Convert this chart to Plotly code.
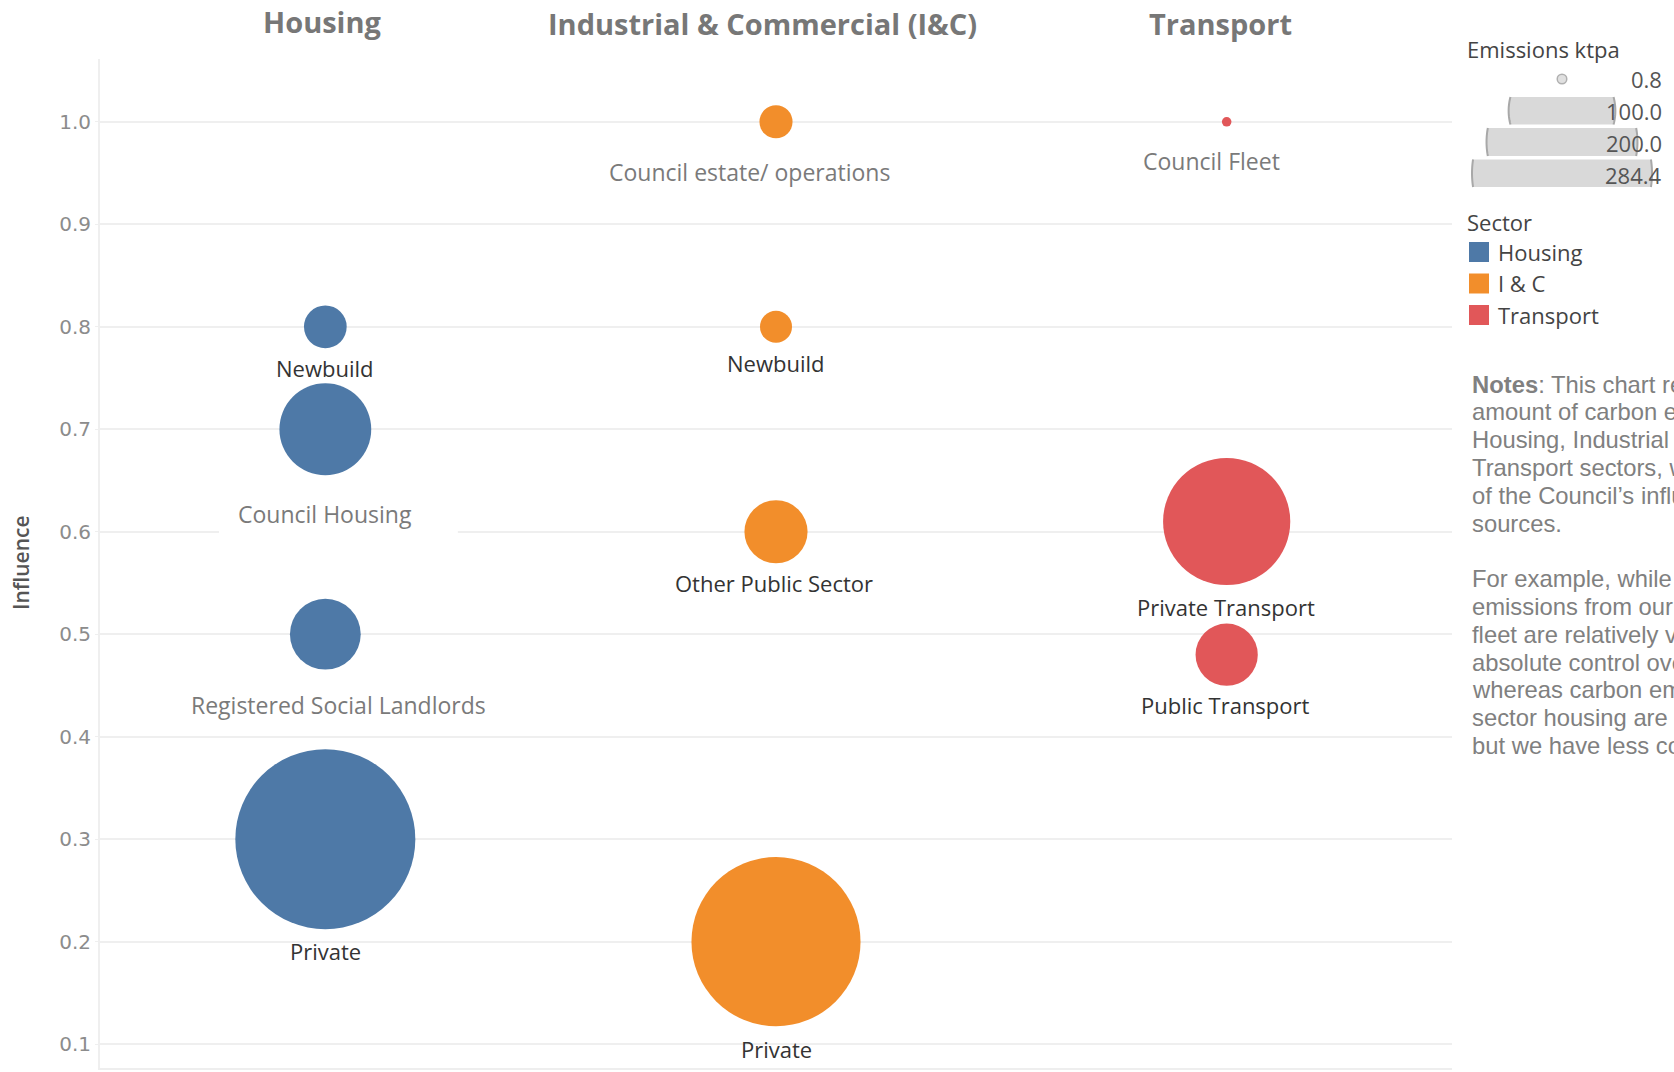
import math
import plotly.graph_objects as go

# ---------------- data ----------------
sectors = ["Housing", "I&C", "Transport"]
column_titles = ["Housing", "Industrial & Commercial (I&C)", "Transport"]
legend_names = ["Housing", "I & C", "Transport"]
sector_colors = ["#4e79a7", "#f28e2b", "#e15759"]

housing_labels = ["Newbuild", "Council Housing", "Registered Social Landlords", "Private"]
housing_influence = [0.8, 0.7, 0.5, 0.3]
housing_emissions = [16.0, 74.0, 44.0, 284.4]

ic_labels = ["Council estate/ operations", "Newbuild", "Other Public Sector", "Private"]
ic_influence = [1.0, 0.8, 0.6, 0.2]
ic_emissions = [9.6, 9.0, 35.0, 251.0]

transport_labels = ["Council Fleet", "Private Transport", "Public Transport"]
transport_influence = [1.0, 0.61, 0.48]
transport_emissions = [0.8, 142.0, 34.0]

size_legend_values = [0.8, 100.0, 200.0, 284.4]
y_tick_values = [0.1, 0.2, 0.3, 0.4, 0.5, 0.6, 0.7, 0.8, 0.9, 1.0]
y_tick_text = ["0.1", "0.2", "0.3", "0.4", "0.5", "0.6", "0.7", "0.8", "0.9", "1.0"]

notes_lines = [
    "<b>Notes</b>: This chart represents the",
    "amount of carbon emissions from the",
    "Housing, Industrial & Commercial and",
    "Transport sectors, with the level",
    "of the Council’s influence over these",
    "sources.",
    "",
    "For example, while the carbon",
    "emissions from our own vehicle",
    "fleet are relatively very low, we have",
    "absolute control over these,",
    "whereas carbon emissions from private",
    "sector housing are much higher,",
    "but we have less control over them.",
]

# ---------------- label styling (x offset px, y offset px, tone, size) ----------------
DARK = ("#333333", 22)
LIGHT = ("#7a7a7a", 23)
housing_style = [(0, 41, DARK), (0, 85, LIGHT), (13, 71, LIGHT), (0, 112, DARK)]
ic_style = [(-27, 50, LIGHT), (0, 36, DARK), (-2, 51, DARK), (0, 107, DARK)]
transport_style = [(-15, 39, LIGHT), (-1, 86, DARK), (-1, 50, DARK)]
header_style = [(-3, 21.5), (-14, 23.5), (-6, 23.5)]

W, H = 1674, 1072
ML, MR, MT, MB = 100, 222, 59, 4
PW, PH = W - ML - MR, H - MT - MB


def px(x):
    return (x - ML) / PW


def py(y):
    return (H - MB - y) / PH


MAX_D = 180.0
all_em = housing_emissions + ic_emissions + transport_emissions
sizeref = 2.0 * max(all_em) / MAX_D ** 2


def diam(v):
    return 2.0 * math.sqrt(v / 2.0 / sizeref)


FONT = "Open Sans"
fig = go.Figure()

groups = [
    (housing_labels, housing_influence, housing_emissions, housing_style),
    (ic_labels, ic_influence, ic_emissions, ic_style),
    (transport_labels, transport_influence, transport_emissions, transport_style),
]

annotations = []
for si, (labels, infl, em, style) in enumerate(groups):
    fig.add_trace(go.Scatter(
        x=[sectors[si]] * len(labels), y=infl, mode="markers",
        name=legend_names[si], text=labels, showlegend=False,
        marker=dict(size=em, sizemode="area", sizeref=sizeref, sizemin=0,
                    color=sector_colors[si], opacity=1, line=dict(width=0)),
        hovertemplate="%{text}<br>Influence %{y}<extra></extra>",
    ))
    for lab, yv, (dx, dy, (col, fs)) in zip(labels, infl, style):
        annotations.append(dict(
            x=sectors[si], y=yv, xref="x", yref="y", text=lab, showarrow=False,
            xanchor="center", yanchor="middle", xshift=dx, yshift=-dy,
            font=dict(family=FONT, size=fs, color=col),
        ))

# column headers
for sec, title, (dx, yc) in zip(sectors, column_titles, header_style):
    annotations.append(dict(x=sec, y=py(yc), xref="x", yref="paper", text=title,
                            showarrow=False, xanchor="center", yanchor="middle",
                            xshift=dx,
                            font=dict(family=FONT, size=29, color="#777777", weight="bold")))

shapes = []
# white box behind "Council Housing" label (covers the gridline)
shapes.append(dict(type="rect", xref="x", yref="y", x0=-0.236, x1=0.294,
                   y0=0.588, y1=0.637, fillcolor="white", line=dict(width=0),
                   layer="between"))

# ---------------- size legend ----------------
LX = 1465
annotations.append(dict(x=px(LX), y=py(49), xref="paper", yref="paper",
                        text="Emissions ktpa", showarrow=False, xanchor="left",
                        yanchor="middle", font=dict(family=FONT, size=22, color="#444444")))
cx = 1562
rows = [(79, None), (97, 124.5), (128, 156), (159.5, 187)]
text_y = [79, 111, 143, 175]
for v, (r0, r1), ty in zip(size_legend_values, rows, text_y):
    d = diam(v)
    r = d / 2
    if r1 is None:
        shapes.append(dict(type="circle", xref="paper", yref="paper",
                           x0=px(cx - r), x1=px(cx + r), y0=py(r0 + r), y1=py(r0 - r),
                           fillcolor="#e0e0e0", line=dict(color="#b0b0b0", width=1.5)))
    else:
        cy = (r0 + r1) / 2
        n = 14
        ys = [r0 + (r1 - r0) * k / n for k in range(n + 1)]
        right = [(cx + math.sqrt(max(r * r - (yy - cy) ** 2, 0)), yy) for yy in ys]
        left = [(cx - math.sqrt(max(r * r - (yy - cy) ** 2, 0)), yy) for yy in reversed(ys)]
        pts = right + left
        path = "M " + " L ".join(f"{px(a):.5f},{py(b):.5f}" for a, b in pts) + " Z"
        shapes.append(dict(type="path", xref="paper", yref="paper", path=path,
                           fillcolor="#d9d9d9", line=dict(width=0)))
        for side in (right, left):
            p = "M " + " L ".join(f"{px(a):.5f},{py(b):.5f}" for a, b in side)
            shapes.append(dict(type="path", xref="paper", yref="paper", path=p,
                               fillcolor="rgba(0,0,0,0)",
                               line=dict(color="#a8a8a8", width=2)))
    annotations.append(dict(x=px(1664), y=py(ty), xref="paper", yref="paper",
                            text=f"{v:.1f}", showarrow=False, xanchor="right",
                            yanchor="middle", font=dict(family=FONT, size=22, color="#555555")))

# ---------------- sector legend ----------------
annotations.append(dict(x=px(LX), y=py(222), xref="paper", yref="paper",
                        text="Sector", showarrow=False, xanchor="left",
                        yanchor="middle", font=dict(family=FONT, size=22, color="#444444")))
for i, (nm, col) in enumerate(zip(legend_names, sector_colors)):
    yc = 252 + i * 31.5
    shapes.append(dict(type="rect", xref="paper", yref="paper",
                       x0=px(1469), x1=px(1489), y0=py(yc + 10), y1=py(yc - 10),
                       fillcolor=col, line=dict(width=0)))
    annotations.append(dict(x=px(1496), y=py(yc), xref="paper", yref="paper",
                            text=nm, showarrow=False, xanchor="left", yanchor="middle",
                            font=dict(family=FONT, size=22, color="#444444")))

# ---------------- notes ----------------
for i, line in enumerate(notes_lines):
    if not line:
        continue
    annotations.append(dict(x=px(1470), y=py(384 + i * 27.8), xref="paper", yref="paper",
                            text=line, showarrow=False, xanchor="left", yanchor="middle",
                            align="left",
                            font=dict(family="Liberation Sans, Arial", size=23.8, color="#808080")))

# ---------------- y axis title ----------------
annotations.append(dict(x=px(21), y=py(563), xref="paper", yref="paper",
                        text="Influence", showarrow=False, textangle=-90,
                        xanchor="center", yanchor="middle",
                        font=dict(family=FONT, size=21, color="#555555", weight=600)))

fig.update_layout(
    width=W, height=H,
    margin=dict(l=ML, r=MR, t=MT, b=MB, autoexpand=False),
    paper_bgcolor="white", plot_bgcolor="white",
    shapes=shapes, annotations=annotations,
    xaxis=dict(type="category", categoryorder="array", categoryarray=sectors,
               range=[-0.5, 2.5], showticklabels=False, ticks="",
               showgrid=False, zeroline=False, showline=True,
               linecolor="#eeeeee", linewidth=2, mirror=False,
               automargin=False, fixedrange=True),
    yaxis=dict(range=[0.0767, 1.0613], tickvals=y_tick_values, ticktext=y_tick_text,
               showgrid=True, gridcolor="#efefef", gridwidth=1.5,
               zeroline=False, showline=True, linecolor="#efefef", linewidth=2,
               ticks="outside", ticklen=3, tickcolor="#efefef",
               tickfont=dict(family="DejaVu Sans", size=20, color="#8c8c8c"),
               automargin=False, fixedrange=True),
    showlegend=False,
)

fig.write_html("out.html", config={"displayModeBar": False},
               post_script="document.body.style.margin='0';document.body.style.overflow='hidden';")
